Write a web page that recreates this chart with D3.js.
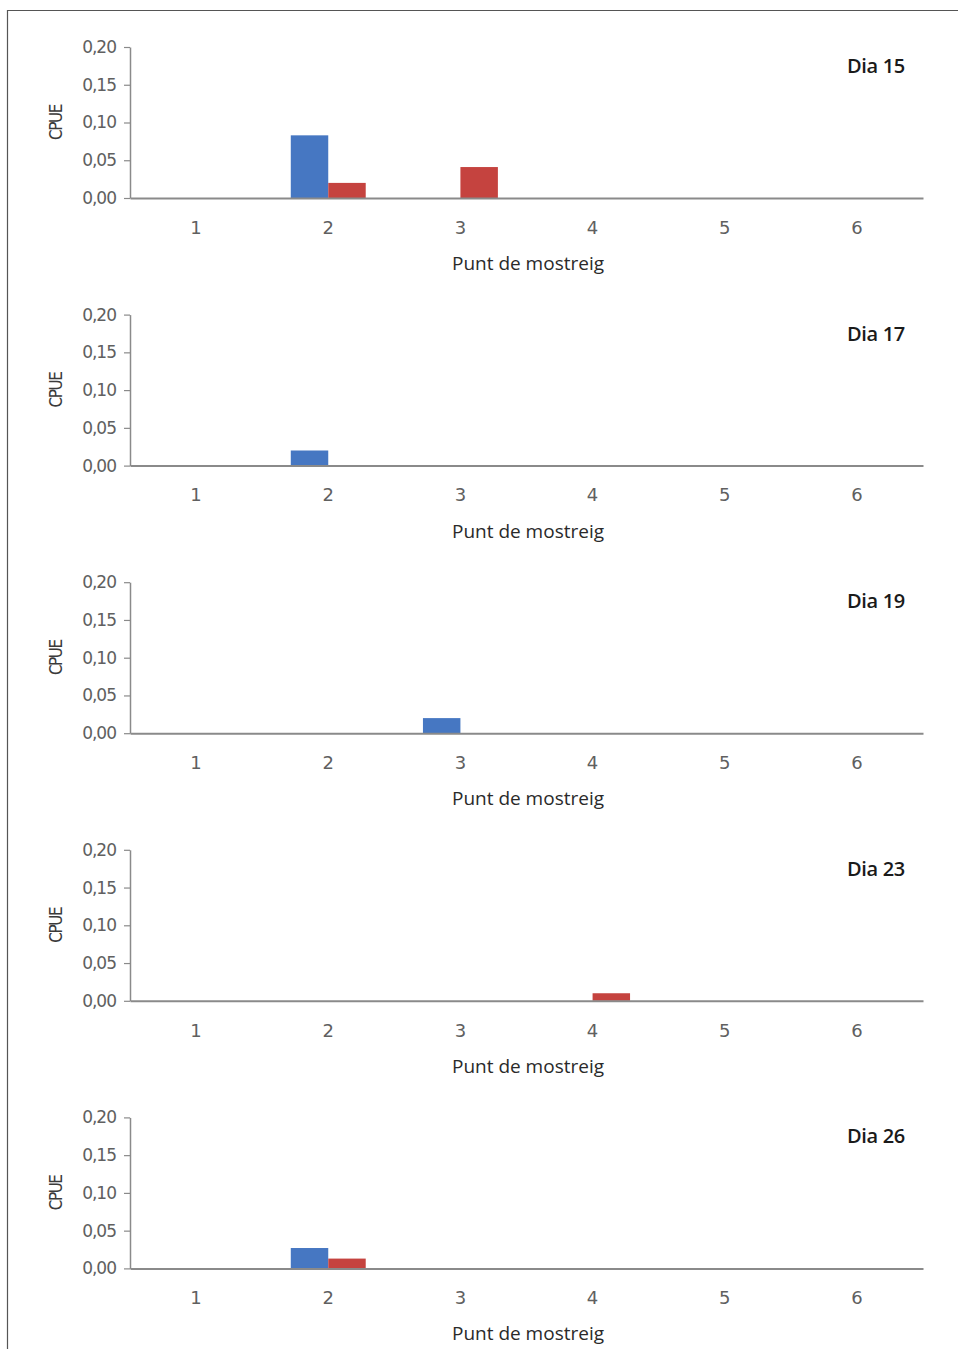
<!DOCTYPE html>
<html>
<head>
<meta charset="utf-8">
<script src="https://cdn.jsdelivr.net/npm/d3@7"></script>
<style>
  html, body { margin: 0; padding: 0; background: #fff; }
  svg { display: block; }
</style>
</head>
<body>
<svg id="chart" width="958" height="1349"></svg>
<script>
// ---- Data ----
const categories = ["1", "2", "3", "4", "5", "6"];
const panelTitles = ["Dia 15", "Dia 17", "Dia 19", "Dia 23", "Dia 26"];
const seriesNames = ["blue", "red"];
const blueValues = [
  [0, 0.083, 0, 0, 0, 0],
  [0, 0.020, 0, 0, 0, 0],
  [0, 0, 0.020, 0, 0, 0],
  [0, 0, 0, 0, 0, 0],
  [0, 0.027, 0, 0, 0, 0]
];
const redValues = [
  [0, 0.020, 0.041, 0, 0, 0],
  [0, 0, 0, 0, 0, 0],
  [0, 0, 0, 0, 0, 0],
  [0, 0, 0, 0.010, 0, 0],
  [0, 0.013, 0, 0, 0, 0]
];
const yTicks = [0, 0.05, 0.10, 0.15, 0.20];
const yTickLabels = ["0,00", "0,05", "0,10", "0,15", "0,20"];
const yLabel = "CPUE";
const xLabel = "Punt de mostreig";

// ---- Layout ----
const colors = { blue: "#4677c2", red: "#c5433f" };
const svg = d3.select("#chart");

// frame (left and top edges)
svg.append("path")
  .attr("d", "M7.5,1349 L7.5,10.5 L958,10.5")
  .attr("fill", "none").attr("stroke", "#555").attr("stroke-width", 1.2);

const panelTop0 = 47, panelStep = 267.6, plotH = 151;
const xLeft = 130, xRight = 923;

const x0 = d3.scaleBand().domain(categories).range([xLeft, xRight])
  .paddingInner(0.433).paddingOuter(0.2165);
const x1 = d3.scaleBand().domain(seriesNames).range([0, x0.bandwidth()]);
const xPoint = d3.scaleBand().domain(categories).range([xLeft, xRight]);

panelTitles.forEach((title, p) => {
  const top = panelTop0 + p * panelStep;
  const g = svg.append("g").attr("transform", `translate(0,${top})`);
  const y = d3.scaleLinear().domain([0, 0.20]).range([plotH, 0]);

  // bars
  const rows = categories.map((c, i) => ({
    cat: c,
    vals: [{ s: "blue", v: blueValues[p][i] }, { s: "red", v: redValues[p][i] }]
  }));
  const grp = g.selectAll("g.cat").data(rows).join("g")
    .attr("transform", d => `translate(${x0(d.cat)},0)`);
  grp.selectAll("rect").data(d => d.vals.filter(e => e.v > 0)).join("rect")
    .attr("x", d => x1(d.s))
    .attr("width", x1.bandwidth())
    .attr("y", d => y(d.v))
    .attr("height", d => y(0) - y(d.v))
    .attr("fill", d => colors[d.s]);

  // y axis
  const yAxis = d3.axisLeft(y).tickValues(yTicks)
    .tickFormat((d, i) => yTickLabels[i]).tickSize(6).tickSizeOuter(0).tickPadding(8);
  const ya = g.append("g").attr("transform", `translate(${xLeft},0)`).call(yAxis);
  ya.select(".domain").attr("stroke", "#8a8a8a").attr("stroke-width", 1.5);
  ya.selectAll(".tick line").attr("stroke", "#8a8a8a").attr("stroke-width", 1.2);
  ya.selectAll(".tick text")
    .attr("fill", "#606060")
    .style("font-family", "'DejaVu Sans', sans-serif")
    .style("font-size", "17px")
    .style("letter-spacing", "-1px");

  // x axis
  const xAxis = d3.axisBottom(xPoint).tickSize(0).tickSizeOuter(0).tickPadding(23);
  const xa = g.append("g").attr("transform", `translate(0,${plotH})`).call(xAxis);
  xa.select(".domain").attr("stroke", "#8a8a8a").attr("stroke-width", 2);
  xa.selectAll(".tick text")
    .attr("fill", "#606060")
    .style("font-family", "'DejaVu Sans', sans-serif")
    .style("font-size", "18px");

  // x label
  g.append("text")
    .attr("x", 528).attr("y", plotH + 72)
    .attr("text-anchor", "middle")
    .attr("fill", "#2a2a2a")
    .style("font-family", "'Open Sans', sans-serif")
    .style("font-size", "19px")
    .text(xLabel);

  // y label
  g.append("text")
    .attr("transform", `translate(62,${plotH / 2}) rotate(-90)`)
    .attr("text-anchor", "middle")
    .attr("fill", "#3a3a3a")
    .style("font-family", "'Liberation Sans Narrow', 'DejaVu Sans Condensed', sans-serif")
    .style("font-size", "17px")
    .style("letter-spacing", "-1.5px")
    .text(yLabel);

  // title
  g.append("text")
    .attr("x", 905).attr("y", 26)
    .attr("text-anchor", "end")
    .attr("fill", "#1a1a1a")
    .style("font-family", "'Open Sans', sans-serif")
    .style("font-size", "20px")
    .style("font-weight", "600")
    .style("letter-spacing", "-0.3px")
    .text(title);
});
</script>
</body>
</html>
